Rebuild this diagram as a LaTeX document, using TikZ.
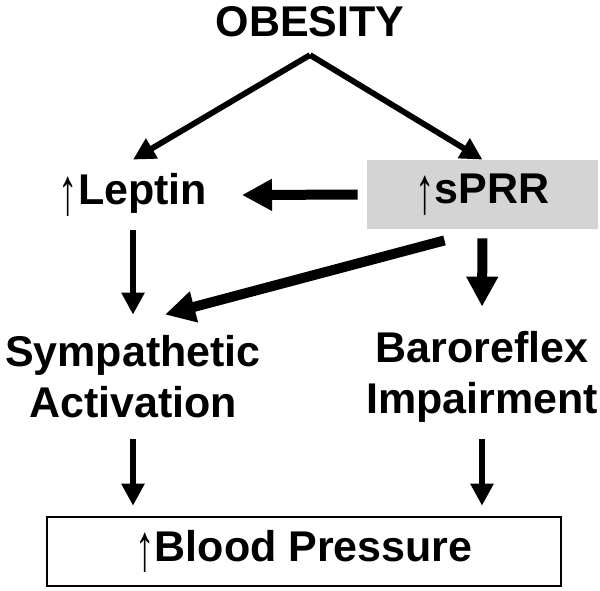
\documentclass[tikz,border=0pt]{standalone}
\usepackage{fontspec}
\setmainfont{Liberation Sans}
\usetikzlibrary{arrows.meta,positioning}
\definecolor{boxgray}{HTML}{D4D4D4}
\newcommand{\uparr}{\raisebox{-0.22em}{\scalebox{0.9}[1.55]{\mdseries ↑}}}
\tikzset{
  lbl/.style={font=\bfseries\fontsize{21.5}{25.5}\selectfont, align=center,
    inner sep=0pt},
  graybox/.style={lbl, fill=boxgray, minimum width=115.5pt, minimum height=34.5pt},
  bpbox/.style={lbl, draw, line width=1.3pt, fill=white,
    minimum width=257pt, minimum height=34.5pt},
  arr/.style={-{Triangle[length=11pt,width=11pt]}, line width=2.9pt},
  thickarr/.style={-{Triangle[length=15pt,width=15pt]}, line width=5pt}
}

\begin{document}
\begin{tikzpicture}[x=0.5pt,y=-0.5pt]
  \useasboundingbox (0,0) rectangle (600,590);
  % nodes
  \node[lbl] (obesity) at (310,22) {OBESITY};
  \coordinate (apex) at (310,55);
  \node[lbl, minimum height=35pt] (leptin) at (133,195) {\uparr Leptin};
  \node[graybox] (sprr) at (482.5,194.5) {\uparr sPRR};
  \node[lbl, minimum height=62pt] (symp) at (133,377) {Sympathetic\\Activation};
  \node[lbl, minimum height=62pt] (baro) at (482,377) {Baroreflex\\Impairment};
  \node[bpbox] (bp) at (304,551.5) {\uparr Blood Pressure};
  % connectors
  \draw[arr] (apex) -- (leptin.north);
  \draw[arr] (apex) -- (sprr.north);
  \draw[thickarr, shorten <=4.5pt] (sprr.west) -- (leptin.east -| 242,0);
  \draw[arr] (leptin.south) -- (symp.north);
  \draw[thickarr] ([shift={(-38,11)}]sprr.south) -- ([shift={(32,0)}]symp.north);
  \draw[thickarr, shorten <=4.5pt, shorten >=4pt] (sprr.south) -- (baro.north);
  \draw[arr, shorten >=5pt] (symp.south) -- (symp.south |- bp.north);
  \draw[arr, shorten >=5pt] (baro.south) -- (baro.south |- bp.north);
\end{tikzpicture}
\end{document}
